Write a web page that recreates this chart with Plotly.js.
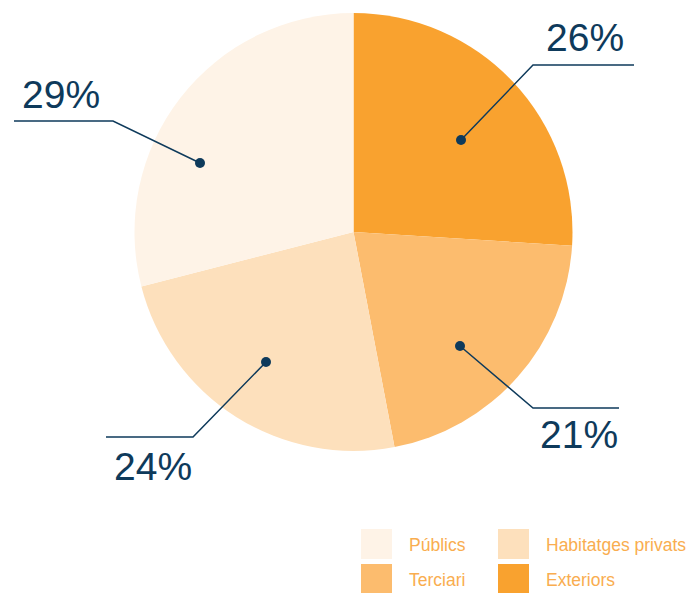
<!DOCTYPE html>
<html>
<head>
<meta charset="utf-8">
<script src="https://cdn.plot.ly/plotly-3.0.1.min.js"></script>
<style>html,body{margin:0;padding:0;background:#fff;}#chart{width:693px;height:593px;}</style>
</head>
<body>
<div id="chart"></div>
<script>
// Data (slice order, clockwise from 12 o'clock)
const categories = ["Exteriors", "Terciari", "Habitatges privats", "Públics"];
const values = [26, 21, 24, 29];
const colors = ["#F9A22F", "#FCBC6E", "#FDE0BC", "#FEF3E7"];
// Legend order (2 x 2 grid)
const legendOrder = ["Públics", "Habitatges privats", "Terciari", "Exteriors"];

const W = 693, H = 593;
const cx = 353.5, cy = 232, R = 219;
const px = x => x / W;
const py = y => 1 - y / H;

const navy = "#0E3A5B";
const legendText = "#F9AD4F";
const font = "'Liberation Sans', Arial, sans-serif";

// Callout layout (pixel positions): dot, elbow, line end, text anchor
const callouts = {
  "Exteriors":          {dot:[461,140], elbow:[533,65],  end:[634,65],  text:[544,37]},
  "Terciari":           {dot:[460,346], elbow:[533,408], end:[619,408], text:[538,434]},
  "Habitatges privats": {dot:[266,362], elbow:[193,437], end:[106,437], text:[112,466]},
  "Públics":            {dot:[200,163], elbow:[113,121], end:[14,121],  text:[20,94.5]}
};

const shapes = [];
const annotations = [];

categories.forEach((c, i) => {
  const co = callouts[c];
  shapes.push({type:"path", xref:"paper", yref:"paper",
    path:`M ${px(co.dot[0])} ${py(co.dot[1])} L ${px(co.elbow[0])} ${py(co.elbow[1])} L ${px(co.end[0])} ${py(co.end[1])}`,
    line:{color:navy, width:1.5}});
  shapes.push({type:"circle", xref:"paper", yref:"paper",
    x0:px(co.dot[0]-5), x1:px(co.dot[0]+5), y0:py(co.dot[1]+5), y1:py(co.dot[1]-5),
    fillcolor:navy, line:{color:navy, width:0}});
  annotations.push({xref:"paper", yref:"paper", x:px(co.text[0]), y:py(co.text[1]),
    xanchor:"left", yanchor:"middle", showarrow:false,
    text: values[i] + "%", font:{family:font, size:39, color:navy}});
});

// Legend grid
const legendCells = [
  {sq:[361,529], text:[407,545]},
  {sq:[498,529], text:[544,545]},
  {sq:[361,564], text:[407,580]},
  {sq:[498,564], text:[544,580]}
];
legendOrder.forEach((name, k) => {
  const cell = legendCells[k];
  const idx = categories.indexOf(name);
  shapes.push({type:"rect", xref:"paper", yref:"paper",
    x0:px(cell.sq[0]), x1:px(cell.sq[0]+31), y0:py(cell.sq[1]+30), y1:py(cell.sq[1]),
    fillcolor:colors[idx], line:{width:0}});
  annotations.push({xref:"paper", yref:"paper", x:px(cell.text[0]), y:py(cell.text[1]),
    xanchor:"left", yanchor:"middle", showarrow:false,
    text:name, font:{family:font, size:17.5, color:legendText}});
});

const trace = {
  type:"pie",
  labels:categories,
  values:values,
  sort:false,
  direction:"clockwise",
  rotation:0,
  marker:{colors:colors, line:{width:0}},
  textinfo:"none",
  hoverinfo:"label+percent",
  showlegend:false,
  domain:{x:[px(cx-R), px(cx+R)], y:[py(cy+R), py(cy-R)]}
};

Plotly.newPlot("chart", [trace], {
  width:W, height:H,
  margin:{l:0, r:0, t:0, b:0},
  paper_bgcolor:"#ffffff",
  plot_bgcolor:"#ffffff",
  showlegend:false,
  shapes:shapes,
  annotations:annotations
}, {displayModeBar:false, staticPlot:true});
</script>
</body>
</html>
